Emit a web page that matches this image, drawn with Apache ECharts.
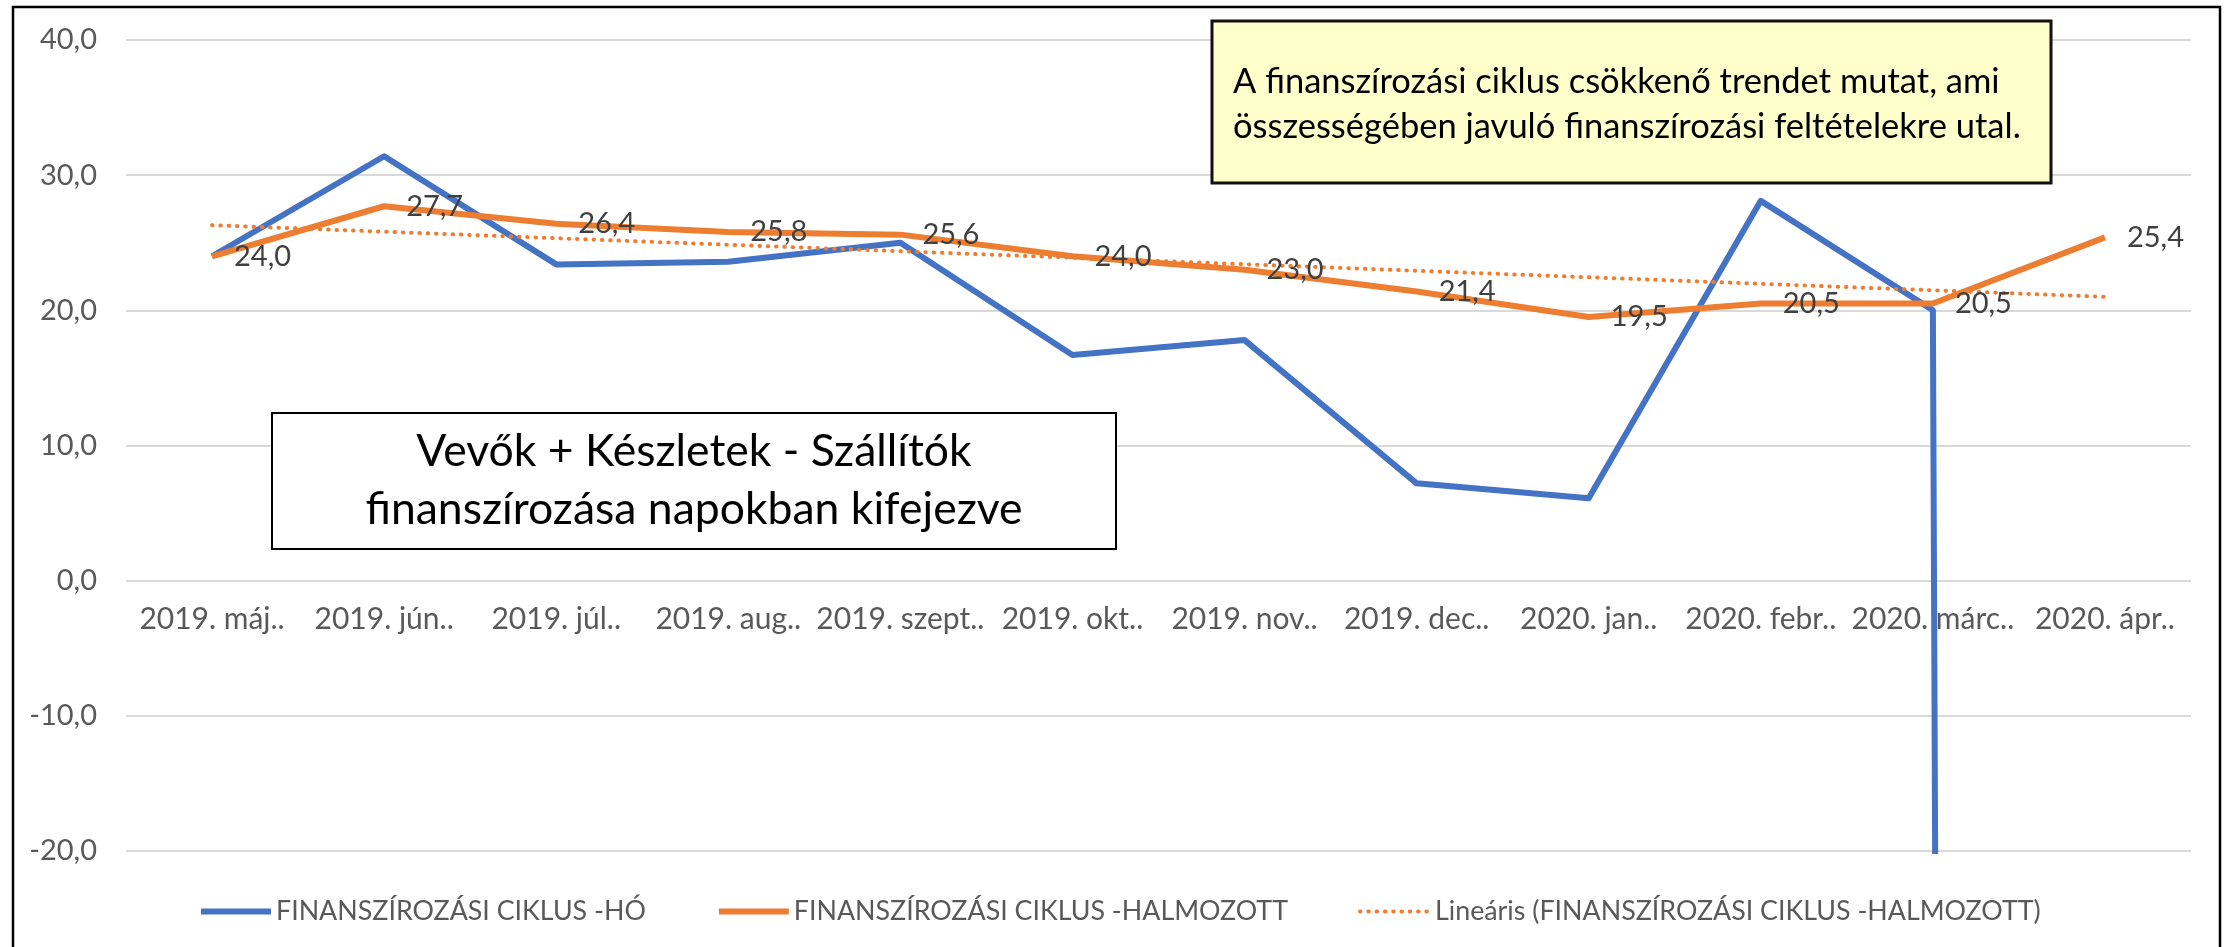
<!DOCTYPE html>
<html>
<head>
<meta charset="utf-8">
<script src="https://cdn.jsdelivr.net/npm/echarts@6/dist/echarts.min.js"></script>
<style>
  html, body { margin: 0; padding: 0; background: #fff; }
  #chart { width: 2226px; height: 947px; }
</style>
</head>
<body>
<div id="chart"></div>
<script>
// hónapok
const months = ['2019. máj..', '2019. jún..', '2019. júl..', '2019. aug..', '2019. szept..', '2019. okt..',
  '2019. nov..', '2019. dec..', '2020. jan..', '2020. febr..', '2020. márc..', '2020. ápr..'];
// havi ciklus (az utolsó érték messze a skála alatt van)
const cycleMonthly = [24.0, 31.4, 23.4, 23.6, 25.0, 16.7, 17.8, 7.2, 6.1, 28.1, 20.0, -3000];
// halmozott ciklus
const cycleCumulative = [24.0, 27.7, 26.4, 25.8, 25.6, 24.0, 23.0, 21.4, 19.5, 20.5, 20.5, 25.4];
// lineáris trend végpontjai
const trendEnds = [26.3, 21.0];
const yTicks = [-20, -10, 0, 10, 20, 30, 40];

const seriesNames = ['FINANSZÍROZÁSI CIKLUS -HÓ', 'FINANSZÍROZÁSI CIKLUS -HALMOZOTT',
  'Lineáris (FINANSZÍROZÁSI CIKLUS -HALMOZOTT)'];

const FONT = 'Lato';
const fmt = v => Number(v).toFixed(1).replace('.', ',');

const GRID_TOP = 40, GRID_BOTTOM = 96, CHART_H = 947;
// a kategóriatengely a 0-s vonalhoz kerül (mint az Excelben)
const plotH = CHART_H - GRID_TOP - GRID_BOTTOM;
const zeroOffset = -plotH * (0 - yTicks[0]) / (yTicks[yTicks.length - 1] - yTicks[0]);

const chart = echarts.init(document.getElementById('chart'));

const option = {
  animation: false,
  grid: { left: 126, right: 35, top: GRID_TOP, bottom: GRID_BOTTOM },
  legend: {
    left: 193,
    top: 893,
    itemWidth: 70,
    itemHeight: 14,
    itemGap: 70,
    itemStyle: { opacity: 0 },
    textStyle: { fontFamily: FONT, fontSize: 26.8, color: '#595959' },
    data: [
      { name: seriesNames[0], lineStyle: { width: 6 } },
      { name: seriesNames[1], lineStyle: { width: 6 } },
      { name: seriesNames[2], lineStyle: { width: 4 } }
    ]
  },
  xAxis: {
    type: 'category',
    data: months,
    boundaryGap: true,
    offset: zeroOffset,
    axisLine: { show: false, onZero: false },
    axisTick: { show: false },
    axisLabel: { fontFamily: FONT, fontSize: 30, color: '#595959', margin: 24, interval: 0 }
  },
  yAxis: {
    type: 'value',
    min: yTicks[0],
    max: yTicks[yTicks.length - 1],
    interval: 10,
    axisLine: { show: false },
    axisTick: { show: false },
    splitLine: { lineStyle: { color: '#d9d9d9', width: 2 } },
    axisLabel: { fontFamily: FONT, fontSize: 29, color: '#595959', margin: 29, formatter: fmt }
  },
  series: [
    {
      name: seriesNames[0],
      type: 'line',
      data: cycleMonthly,
      symbol: 'none',
      clip: true,
      lineStyle: { color: '#4472c4', width: 6, join: 'round' },
      itemStyle: { color: '#4472c4' }
    },
    {
      name: seriesNames[1],
      type: 'line',
      data: cycleCumulative,
      symbol: 'circle',
      symbolSize: 0,
      showSymbol: true,
      lineStyle: { color: '#ed7d31', width: 6, join: 'round' },
      itemStyle: { color: '#ed7d31' },
      label: {
        show: true,
        position: 'right',
        distance: 22,
        fontFamily: FONT,
        fontSize: 29,
        color: '#404040',
        formatter: p => fmt(p.value)
      }
    },
    {
      name: seriesNames[2],
      type: 'line',
      data: [[months[0], trendEnds[0]], [months[months.length - 1], trendEnds[1]]],
      symbol: 'none',
      lineStyle: { color: '#ed7d31', width: 4, type: [0.5, 7.8], cap: 'round' },
      itemStyle: { color: '#ed7d31' }
    }
  ],
  graphic: [
    {
      type: 'rect',
      z: 100,
      shape: { x: 13, y: 7, width: 2207, height: 1000 },
      style: { fill: null, stroke: '#000', lineWidth: 2.5 }
    },
    {
      type: 'rect',
      z: 100,
      shape: { x: 272, y: 413, width: 844, height: 136 },
      style: { fill: '#fff', stroke: '#000', lineWidth: 2 }
    },
    {
      type: 'text',
      z: 101,
      x: 694,
      y: 481,
      style: {
        text: 'Vevők + Készletek - Szállítók\nfinanszírozása napokban kifejezve',
        fontFamily: FONT,
        fontSize: 44.5,
        lineHeight: 58,
        fill: '#000',
        align: 'center',
        verticalAlign: 'middle'
      }
    },
    {
      type: 'rect',
      z: 100,
      shape: { x: 1212, y: 21, width: 839, height: 162 },
      style: { fill: '#ffffcc', stroke: '#111', lineWidth: 3 }
    },
    {
      type: 'text',
      z: 101,
      x: 1233,
      y: 104,
      style: {
        text: 'A finanszírozási ciklus csökkenő trendet mutat, ami\nösszességében javuló finanszírozási feltételekre utal.',
        fontFamily: FONT,
        fontSize: 34.5,
        lineHeight: 45,
        fill: '#000',
        align: 'left',
        verticalAlign: 'middle'
      }
    }
  ]
};

chart.setOption(option);
</script>
</body>
</html>
